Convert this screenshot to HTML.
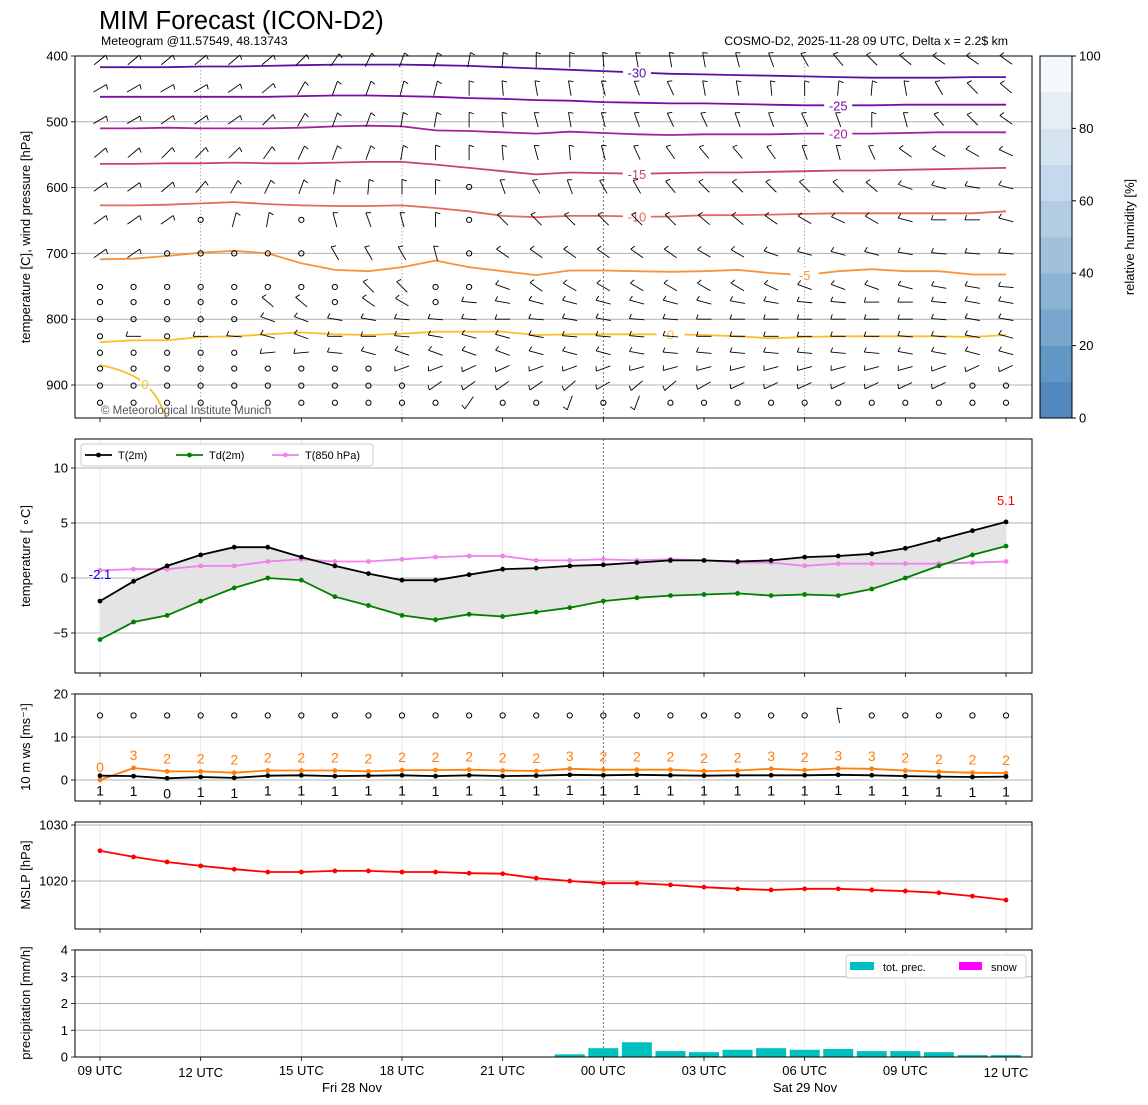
<!DOCTYPE html>
<html><head><meta charset="utf-8"><style>
html,body{margin:0;padding:0;background:#fff;}
svg{display:block;font-family:"Liberation Sans","DejaVu Sans",sans-serif;}
</style></head><body>
<svg id="c" width="1148" height="1105" viewBox="0 0 1148 1105" xmlns="http://www.w3.org/2000/svg">
<text x="99" y="29" font-size="25.5">MIM Forecast (ICON-D2)</text>
<text x="101" y="45" font-size="12.3">Meteogram @11.57549, 48.13743</text>
<text x="1008" y="45" font-size="12.3" text-anchor="end">COSMO-D2, 2025-11-28 09 UTC, Delta x = 2.2$ km</text>
<g id="g"></g>
</svg>
<script>
// ---- data ----
const hours = [0,1,2,3,4,5,6,7,8,9,10,11,12,13,14,15,16,17,18,19,20,21,22,23,24,25,26,27];
const xTickLabels = ["09 UTC","12 UTC","15 UTC","18 UTC","21 UTC","00 UTC","03 UTC","06 UTC","09 UTC","12 UTC"];
const t2m = [-2.1,-0.3,1.1,2.1,2.8,2.8,1.9,1.1,0.4,-0.2,-0.2,0.3,0.8,0.9,1.1,1.2,1.4,1.6,1.6,1.5,1.6,1.9,2.0,2.2,2.7,3.5,4.3,5.1];
const td2m = [-5.6,-4.0,-3.4,-2.1,-0.9,0,-0.2,-1.7,-2.5,-3.4,-3.8,-3.3,-3.5,-3.1,-2.7,-2.1,-1.8,-1.6,-1.5,-1.4,-1.6,-1.5,-1.6,-1.0,0,1.1,2.1,2.9];
const t850 = [0.7,0.8,0.8,1.1,1.1,1.5,1.7,1.5,1.5,1.7,1.9,2.0,2.0,1.6,1.6,1.7,1.6,1.7,1.6,1.4,1.4,1.1,1.3,1.3,1.3,1.3,1.4,1.5];
const ws10 = [1.0,0.9,0.4,0.7,0.5,1.0,1.1,0.9,1.0,1.1,0.9,1.1,0.9,1.0,1.2,1.1,1.2,1.1,1.0,1.1,1.1,1.1,1.2,1.1,0.9,0.8,0.7,0.8];
const gust10 = [0,2.8,2.0,2.0,1.7,2.2,2.2,2.2,2.0,2.3,2.3,2.4,2.2,2.1,2.6,2.4,2.4,2.4,2.1,2.2,2.6,2.3,2.7,2.6,2.2,1.9,1.7,1.6];
const mslp = [1025.4,1024.3,1023.4,1022.7,1022.1,1021.6,1021.6,1021.8,1021.8,1021.6,1021.6,1021.4,1021.3,1020.5,1020.0,1019.6,1019.6,1019.3,1018.9,1018.6,1018.4,1018.6,1018.6,1018.4,1018.2,1017.9,1017.3,1016.6];
const precip = [0,0,0,0,0,0,0,0,0,0,0,0,0,0,0.1,0.33,0.55,0.22,0.18,0.27,0.33,0.27,0.3,0.22,0.22,0.18,0.07,0.07];
const snow = [0,0,0,0,0,0,0,0,0,0,0,0,0,0,0,0,0,0,0,0,0,0,0,0,0,0,0,0];
// isotherm pressure levels [hPa] per hour
const isoLabels = [-30,-25,-20,-15,-10,-5,0];
const iso_m30 = [417,417,417,416,416,415,414,413,413,413,414,415,417,419,421,423,425,427,428,429,430,431,432,433,433,433,432,432];
const iso_m25 = [462,462,462,462,462,462,461,460,460,461,462,464,465,467,468,470,471,472,472,473,474,475,475,475,474,474,474,474];
const iso_m20 = [510,510,509,510,510,510,509,507,506,507,513,514,516,518,515,517,519,520,519,519,519,518,518,518,517,516,516,516];
const iso_m15 = [564,564,563,563,562,563,563,562,561,561,565,570,575,580,577,578,579,578,577,577,576,575,574,574,573,572,571,570];
const iso_m10 = [627,627,626,624,622,625,627,628,628,627,631,636,643,645,643,643,644,644,642,642,641,640,639,639,639,639,639,636];
const iso_m5 = [709,708,704,699,696,700,715,725,727,721,711,721,727,733,726,726,727,728,727,725,730,733,727,724,727,727,732,732];
const iso_0 = [835,832,832,827,826,823,820,823,824,822,819,819,819,824,823,823,823,823,824,826,829,827,826,826,826,826,827,824];
const isoColors = ["#5c0fa3","#7b0ca8","#a3229c","#c9456f","#e26b5a","#f6943c","#fbbf2d"];
const isoLabelHour = [16,22,22,16,16,21,17];
// wind barbs: staff angle (deg, clockwise from up), null = calm
const windLevels = [406,449,497,547,599,649,700,751,774,800,826,851,875,901,927];
const N=null;
const wind406=[50,50,50,50,50,50,45,35,25,20,15,10,5,0,0,-5,-10,-10,-10,-15,-20,-30,-40,-45,-50,-55,-55,-55];
const wind449=[60,60,60,60,55,50,30,20,20,15,15,0,-5,-10,-10,-15,-20,-25,-10,-10,-5,0,5,5,-10,-30,-45,-50];
const wind497=[60,60,55,55,55,45,30,20,20,10,10,0,-5,-15,-10,-15,-20,-25,-25,-20,-20,-25,-20,0,-15,-40,-45,-55];
const wind547=[50,50,45,45,45,35,25,20,20,10,0,0,-5,-15,-5,-15,-25,-35,-40,-40,-35,-20,-15,-25,-55,-60,-60,-65];
const wind599=[55,55,50,40,30,25,20,10,5,0,0,N,-20,-30,-20,-30,-30,-40,-45,-45,-45,-45,-45,-50,-70,-75,-80,-75];
const wind649=[55,55,55,N,15,10,N,-15,-20,-15,0,N,-45,-45,-45,-45,-45,-45,-50,-50,-55,-60,-65,-60,-75,-90,-90,-75];
const wind700=[55,55,N,N,N,N,N,-30,-30,-30,-15,N,-55,-55,-55,-55,-55,-55,-60,-60,-70,-75,-75,-75,-80,-85,-85,-85];
const wind751=[N,N,N,N,N,N,N,N,-45,-45,N,N,-70,-55,-60,-60,-60,-60,-60,-60,-65,-70,-70,-70,-75,-80,-80,-85];
const wind774=[N,N,N,N,N,-50,-50,N,-55,-60,N,-85,-80,-75,-75,-75,-75,-75,-75,-80,-80,-85,-85,-90,-90,-85,-80,-80];
const wind800=[N,N,N,N,N,-70,-70,-80,-80,-85,-85,-85,-90,-85,-80,-80,-85,-85,-90,-90,-90,-90,-90,-90,-90,-85,-80,-80];
const wind826=[N,-90,N,-90,-85,-75,-70,-90,-90,-85,-80,-75,-75,-80,-85,-85,-85,-85,-90,-90,-90,-90,-90,-90,-85,-85,-80,-75];
const wind851=[N,N,N,N,N,-95,-95,-85,-75,-70,-70,-70,-70,-75,-75,-75,-80,-85,-85,-85,-85,-85,-85,-85,-80,-80,-75,-75];
const wind875=[N,N,N,N,N,N,N,N,N,-110,-110,-115,-115,-110,-110,-110,-105,-105,-105,-105,-105,-105,-105,-105,-105,-110,-115,-115];
const wind901=[N,N,N,N,N,N,N,N,N,N,-125,-125,-125,-125,-130,-120,-130,-130,-120,-115,-115,-115,-115,-115,-115,-115,N,N];
const wind927=[N,N,N,N,N,N,N,N,N,N,N,-145,N,N,-160,N,-160,N,N,N,N,N,N,N,N,N,N,N];
const windSfc=[N,N,N,N,N,N,N,N,N,N,N,N,N,N,N,N,N,N,N,N,N,N,-10,N,N,N,N,N];
const rhTicks=[0,20,40,60,80,100];

// ---- helpers ----
const NS="http://www.w3.org/2000/svg";
const G=document.getElementById('g');
function mk(tag,attrs,parent){const e=document.createElementNS(NS,tag);for(const k in attrs)e.setAttribute(k,attrs[k]);(parent||G).appendChild(e);return e;}
function txt(s,attrs,parent){const e=mk('text',attrs,parent);e.textContent=s;return e;}
const X0=100,DX=906/27;
const x=h=>X0+h*DX;
const panels=[
 {name:'upper-air-panel',t:56,b:418},
 {name:'temperature-panel',t:439,b:673},
 {name:'wind-speed-panel',t:694,b:801},
 {name:'mslp-panel',t:822,b:929},
 {name:'precipitation-panel',t:950,b:1057}];
const L=75,R=1032;
const yP=p=>56+(p-400)*0.658;
const yT=t=>578-t*11;
const yW=v=>780-v*4.3;
const yM=p=>881-(p-1020)*5.6;
const yR=v=>1057-v*26.75;
function path(xs,ys){return xs.map((v,i)=>(i?'L':'M')+v.toFixed(1)+','+ys[i].toFixed(1)).join('');}

// grids
panels.forEach((p,i)=>{
  const g=mk('g',{});
  
  
  for(let k=0;k<10;k++){
    const xx=x(k*3);
    if(i===0){ if(k===1||k===3||k===7) mk('line',{x1:xx,x2:xx,y1:p.t,y2:p.b,stroke:'#999','stroke-width':0.8,'stroke-dasharray':'1.5,2'},g); }
    else if(k!==5) mk('line',{x1:xx,x2:xx,y1:p.t,y2:p.b,stroke:'#e4e4e4','stroke-width':0.8},g);
    if(k===5) mk('line',{x1:xx,x2:xx,y1:p.t,y2:p.b,stroke:'#555','stroke-width':0.8,'stroke-dasharray':'2,2'},g);
  }
});
function hgrid(vals,fy,p,lbl,axName){
  const g=mk('g',{});
  
  
  vals.forEach((v,i)=>{const yy=fy(v);
    mk('line',{x1:L,x2:R,y1:yy,y2:yy,stroke:'#b0b0b0','stroke-width':1},g);
    mk('line',{x1:L-4,x2:L,y1:yy,y2:yy,stroke:'#000','stroke-width':0.8},g);
    txt(lbl[i],{x:L-7,y:yy+4.5,'font-size':13,'text-anchor':'end'},g);});
}
hgrid([400,500,600,700,800,900],yP,0,['400','500','600','700','800','900'],'pressure-axis');
hgrid([-5,0,5,10],yT,1,['−5','0','5','10'],'temperature-axis');
hgrid([0,10,20],yW,2,['0','10','20'],'wind-axis');
hgrid([1020,1030],yM,3,['1020','1030'],'mslp-axis');
hgrid([0,1,2,3,4],yR,4,['0','1','2','3','4'],'precip-axis');

// isotherms
const isoData=[iso_m30,iso_m25,iso_m20,iso_m15,iso_m10,iso_m5,iso_0];
isoData.forEach((arr,i)=>{
  const e=mk('path',{d:path(hours.map(x),arr.map(yP)),fill:'none',stroke:isoColors[i],'stroke-width':1.8});
  
  
  const h=isoLabelHour[i], lx=x(h), ly=yP(arr[h]);
  mk('rect',{x:lx-14,y:ly-7,width:28,height:14,fill:'#fff'});
  const t=txt(String(isoLabels[i]),{x:lx,y:ly+5,'font-size':13,'text-anchor':'middle',fill:isoColors[i]});
  
  
});
// second 0 contour near surface
{const e=mk('path',{d:'M100,365 Q125,370 140,380 M150,389 Q160,400 166,418',fill:'none',stroke:'#fbbf2d','stroke-width':1.8});


txt('0',{x:145,y:389,'font-size':13,'text-anchor':'middle',fill:'#fbbf2d'});}

// barbs
function barb(cx,cy,ang,g){
  if(ang===null){mk('circle',{cx:cx,cy:cy,r:2.6,fill:'none',stroke:'#000','stroke-width':1},g);return;}
  const a=ang*Math.PI/180, ux=Math.sin(a), uy=-Math.cos(a), Lh=7.5;
  const x1=cx-ux*Lh,y1=cy-uy*Lh,x2=cx+ux*Lh,y2=cy+uy*Lh;
  mk('line',{x1:x1,y1:y1,x2:x2,y2:y2,stroke:'#000','stroke-width':0.9},g);
  const b=a+Math.PI*0.6;
  mk('line',{x1:x2,y1:y2,x2:x2+Math.sin(b)*5,y2:y2-Math.cos(b)*5,stroke:'#000','stroke-width':0.9},g);
}
const windRows=[wind406,wind449,wind497,wind547,wind599,wind649,wind700,wind751,wind774,wind800,wind826,wind851,wind875,wind901,wind927];
const wg=mk('g',{});


windRows.forEach((row,li)=>row.forEach((a,h)=>barb(x(h),yP(windLevels[li]),a,wg)));
txt('© Meteorological Institute Munich',{x:101,y:414,'font-size':11.5,fill:'#555'});

// panel 2
{const g=mk('g',{});


const xs=hours.map(x);
const fillD=path(xs,t2m.map(yT))+xs.slice().reverse().map((v,i)=>'L'+v+','+yT(td2m[td2m.length-1-i])).join('')+'Z';
mk('path',{d:fillD,fill:'#e4e4e4',stroke:'none'},g);
[[t850,'#ee82ee','t850-line'],[td2m,'#008000','td2m-line'],[t2m,'#000','t2m-line']].forEach(s=>{
  const e=mk('path',{d:path(xs,s[0].map(yT)),fill:'none',stroke:s[1],'stroke-width':1.8},g);
  
  
  s[0].forEach((v,i)=>mk('circle',{cx:xs[i],cy:yT(v),r:2.4,fill:s[1]},g));
});
txt(t2m[0].toFixed(1),{x:100,y:yT(t2m[0])-22,'font-size':13,'text-anchor':'middle',fill:'#0000ff'},g);
txt(t2m[27].toFixed(1),{x:1006,y:yT(t2m[27])-17,'font-size':13,'text-anchor':'middle',fill:'#ff0000'},g);
// legend
const lg=mk('g',{});


mk('rect',{x:81,y:444,width:292,height:22,rx:3,fill:'#fff',stroke:'#ccc'},lg);
[['T(2m)','#000',85],['Td(2m)','#008000',176],['T(850 hPa)','#ee82ee',272]].forEach(e=>{
  mk('line',{x1:e[2],x2:e[2]+27,y1:455,y2:455,stroke:e[1],'stroke-width':1.8},lg);
  mk('circle',{cx:e[2]+13.5,cy:455,r:2.4,fill:e[1]},lg);
  const t=txt(e[0],{x:e[2]+33,y:459,'font-size':11},lg);
  
  
});}

// panel 3
{const g=mk('g',{});


const xs=hours.map(x);
[[gust10,'#ff7f0e',-8],[ws10,'#000',20]].forEach(s=>{
  mk('path',{d:path(xs,s[0].map(yW)),fill:'none',stroke:s[1],'stroke-width':1.8},g);
  s[0].forEach((v,i)=>{mk('circle',{cx:xs[i],cy:yW(v),r:2.4,fill:s[1]},g);
    txt(String(Math.round(v)),{x:xs[i],y:yW(v)+s[2],'font-size':14,'text-anchor':'middle',fill:s[1]},g);});
});
windSfc.forEach((a,h)=>barb(x(h),yW(15),a,g));}

// panel 4
{const g=mk('g',{});


const xs=hours.map(x);
mk('path',{d:path(xs,mslp.map(yM)),fill:'none',stroke:'#ff0000','stroke-width':1.8},g);
mslp.forEach((v,i)=>mk('circle',{cx:xs[i],cy:yM(v),r:2.4,fill:'#ff0000'},g));}

// panel 5
{const g=mk('g',{});


precip.forEach((v,i)=>{ if(v>0){const r=mk('rect',{x:x(i)-15,y:yR(v),width:30,height:yR(0)-yR(v),fill:'#00bfbf'},g);
  
  }});
snow.forEach((v,i)=>{ if(v>0){mk('rect',{x:x(i)-15,y:yR(v),width:30,height:yR(0)-yR(v),fill:'#ff00ff'},g);}});
const lg=mk('g',{});


mk('rect',{x:846,y:955,width:180,height:23,rx:3,fill:'#fff',stroke:'#ccc'},lg);
mk('rect',{x:850,y:962,width:24,height:8,fill:'#00bfbf'},lg);
txt('tot. prec.',{x:883,y:971,'font-size':11},lg);
mk('rect',{x:959,y:962,width:23,height:8,fill:'#ff00ff'},lg);
txt('snow',{x:991,y:971,'font-size':11},lg);}

// frames + x ticks
panels.forEach((p,i)=>{
  const f=mk('rect',{x:L,y:p.t,width:R-L,height:p.b-p.t,fill:'none',stroke:'#000','stroke-width':1});
  
  
  for(let k=0;k<10;k++) mk('line',{x1:x(k*3),x2:x(k*3),y1:p.b,y2:p.b+4,stroke:'#000','stroke-width':0.8});
});
xTickLabels.forEach((s,k)=>{const t=txt(s,{x:x(k*3),y:k===1||k===9?1077:1075,'font-size':13,'text-anchor':'middle'});
  
  });
txt('Fri 28 Nov',{x:352,y:1092,'font-size':13,'text-anchor':'middle'});
txt('Sat 29 Nov',{x:805,y:1092,'font-size':13,'text-anchor':'middle'});

// y titles
[['temperature [C], wind pressure [hPa]',237],['temperature [ ∘C]',556],['10 m ws [ms⁻¹]',747],['MSLP [hPa]',875],['precipitation [mm/h]',1003]].forEach((e,i)=>{
  const t=txt(e[0],{x:0,y:0,'font-size':13,'text-anchor':'middle',transform:'translate(30,'+e[1]+') rotate(-90)'});
  
  
});

// colorbar
{const g=mk('g',{});


const cols=['#5289bd','#6397c6','#77a5cd','#8bb3d5','#9fc1dc','#b2cde3','#c4d9eb','#d5e4f1','#e5eef7','#f3f8fc'];
const cyv=v=>418-v*3.62;
cols.forEach((c,i)=>mk('rect',{x:1040,y:cyv((i+1)*10),width:32,height:36.2+0.3,fill:c},g));
mk('rect',{x:1040,y:56,width:32,height:362,fill:'none',stroke:'#000','stroke-width':1},g);
rhTicks.forEach(v=>{mk('line',{x1:1072,x2:1076,y1:cyv(v),y2:cyv(v),stroke:'#000'},g);
  txt(String(v),{x:1079,y:cyv(v)+4.5,'font-size':13},g);});
txt('relative humidity [%]',{x:0,y:0,'font-size':13,'text-anchor':'middle',transform:'translate(1134,237) rotate(-90)'},g);}
</script>
</body></html>
